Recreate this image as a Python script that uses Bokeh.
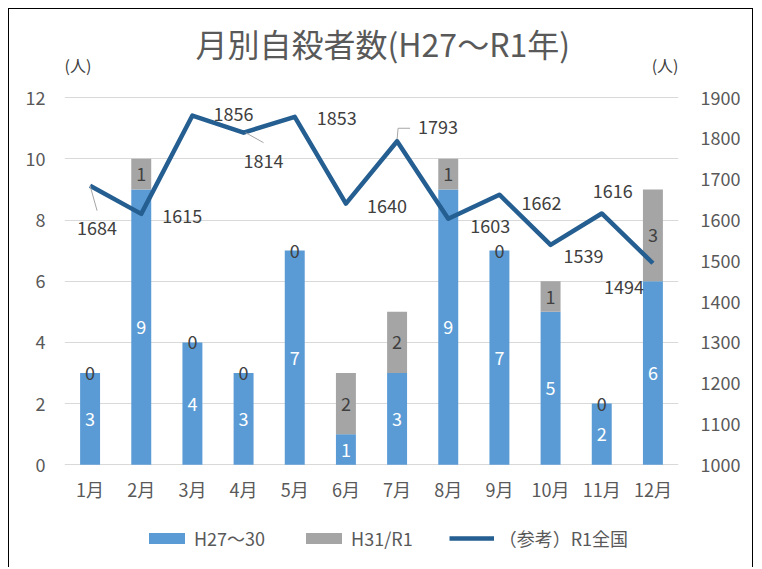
from bokeh.plotting import figure
from bokeh.models import (Range1d, LinearAxis, FixedTicker, ColumnDataSource,
                          Legend, LegendItem, Label, Title)
from bokeh.core.properties import value
from bokeh.embed import file_html
from bokeh.resources import INLINE

# ---------------- data ----------------
months = ["1月", "2月", "3月", "4月", "5月", "6月", "7月", "8月", "9月", "10月", "11月", "12月"]
h27_30 = [3, 9, 4, 3, 7, 1, 3, 9, 7, 5, 2, 6]
h31_r1 = [0, 1, 0, 0, 0, 2, 2, 1, 0, 1, 0, 3]
r1_national = [1684, 1615, 1856, 1814, 1853, 1640, 1793, 1603, 1662, 1539, 1616, 1494]
left_ticks = [0, 2, 4, 6, 8, 10, 12]
right_ticks = [1000, 1100, 1200, 1300, 1400, 1500, 1600, 1700, 1800, 1900]
series_names = ["H27〜30", "H31/R1", "（参考）R1全国"]
title_text = "月別自殺者数(H27〜R1年)"
unit_text = "(人)"

# ---------------- styles / layout ----------------
FONT = "Noto Sans CJK JP"
BLUE = "#5B9BD5"
GRAY = "#A5A5A5"
LINE = "#255E91"
TXT = "#595959"
DARK = "#404040"

# label offsets in pixels (x right, y down) for the line values
line_lbl_dx = [7, 41, 41, 20, 42, 41, 41, 42, 42, 33, 11, -29]
line_lbl_dy = [42, 2, -2, 28, 1, 2, -14, 7, 8, 11, -22, 24]
# leader lines (pixel offsets from the point)
leaders = {0: [(0, 0), (7, 25)], 3: [(2, 0), (20, 10)], 6: [(0, -2), (1, -13), (13, -13)]}

W, H = 745, 559
TOP, BOTTOM = 46, 0
PX = 30.6                                  # pixels per unit of the left scale
Y_ZERO = 455.3                             # canvas y of value 0
Y_TOP = (Y_ZERO - TOP) / PX                # head-room for unit labels
Y_BOT = -((H - BOTTOM) - Y_ZERO) / PX      # foot-room for month labels + legend
R_TOP = 1000 + 900 * Y_TOP / 12.0
R_BOT = 1000 + 900 * Y_BOT / 12.0
x = list(range(len(months)))

p = figure(width=W, height=H, output_backend="svg", toolbar_location=None,
           x_range=Range1d(-0.5, 11.5), y_range=Range1d(Y_BOT, Y_TOP),
           min_border_left=55, min_border_right=76, min_border_top=TOP,
           min_border_bottom=BOTTOM,
           background_fill_color="white", border_fill_color="white")
p.styles = {"margin-left": "8px", "margin-top": "8px",
            "border-left": "1px solid #000000", "border-top": "1px solid #000000",
            "border-right": "1px solid #000000"}
p.outline_line_color = None
p.extra_y_ranges = {"right": Range1d(R_BOT, R_TOP)}

# title
p.title = Title(text=title_text, align="left", offset=131, text_font=FONT,
                text_font_size="32px", text_color=TXT, text_font_style="normal",
                standoff=-21)

# axes
p.xaxis.ticker = FixedTicker(ticks=x)
p.xaxis.major_label_overrides = {i: m for i, m in enumerate(months)}
p.xaxis.fixed_location = 0
p.yaxis.ticker = FixedTicker(ticks=left_ticks)
for ax in [p.xaxis[0], p.yaxis[0]]:
    ax.axis_line_color = None
    ax.major_tick_line_color = None
    ax.minor_tick_line_color = None
    ax.major_tick_out = 0
    ax.major_label_text_font = FONT
    ax.major_label_text_font_size = "18px"
    ax.major_label_text_color = TXT
p.xaxis.major_label_standoff = 11
p.yaxis.major_label_standoff = 19

ry = LinearAxis(y_range_name="right", ticker=FixedTicker(ticks=right_ticks))
ry.axis_line_color = None
ry.major_tick_line_color = None
ry.minor_tick_line_color = None
ry.major_tick_out = 0
ry.major_label_text_font = FONT
ry.major_label_text_font_size = "18px"
ry.major_label_text_color = TXT
ry.major_label_standoff = 22
p.add_layout(ry, "right")

p.xgrid.grid_line_color = None
p.ygrid.ticker = FixedTicker(ticks=left_ticks)
p.ygrid.grid_line_color = "#D9D9D9"
p.ygrid.grid_line_width = 1

# bars
src = ColumnDataSource(dict(x=x, a=h27_30, b=h31_r1))
bars = p.vbar_stack(["a", "b"], x="x", width=0.39, color=[BLUE, GRAY], source=src,
                    line_color=None)

# line
ln = p.line(x, r1_national, y_range_name="right", line_width=4.5, line_color=LINE,
            line_join="round")

# bar labels
p.text(x=x, y=[a / 2 for a in h27_30], text=[str(a) for a in h27_30],
       text_font=value(FONT), text_font_size="18px", text_color="white",
       text_align="center", text_baseline="middle")
p.text(x=x, y=[a + b / 2 for a, b in zip(h27_30, h31_r1)], text=[str(b) for b in h31_r1],
       text_font=value(FONT), text_font_size="18px", text_color=DARK,
       text_align="center", text_baseline="middle")

# leader lines
xpx = 614.0 / 12.0
ypx = PX * 12.0 / 900.0
lx, ly = [], []
for i, pts in leaders.items():
    lx.append([i + dx / xpx for dx, dy in pts])
    ly.append([r1_national[i] - dy / ypx for dx, dy in pts])
p.multi_line(lx, ly, y_range_name="right", line_color="#A6A6A6", line_width=1)

# line value labels
lsrc = ColumnDataSource(dict(x=x, y=r1_national, t=[str(v) for v in r1_national],
                             dx=line_lbl_dx, dy=line_lbl_dy))
p.text(x="x", y="y", text="t", x_offset="dx", y_offset="dy", source=lsrc,
       y_range_name="right", text_font=value(FONT), text_font_size="18px",
       text_color=DARK, text_align="center", text_baseline="middle")

# unit labels
p.add_layout(Label(x=-0.5, y=12.0, y_offset=33, text=unit_text,
                   text_font=FONT, text_font_size="16px", text_color=DARK,
                   text_align="left", text_baseline="middle"))
p.add_layout(Label(x=11.5, y=12.0, y_offset=33, text=unit_text,
                   text_font=FONT, text_font_size="16px", text_color=DARK,
                   text_align="right", text_baseline="middle"))

# legend
legend = Legend(items=[LegendItem(label=series_names[0], renderers=[bars[0]]),
                       LegendItem(label=series_names[1], renderers=[bars[1]]),
                       LegendItem(label=series_names[2], renderers=[ln])],
                orientation="horizontal", location=(80, 17),
                glyph_width=45, glyph_height=14, label_standoff=5, spacing=36,
                padding=0, margin=0, border_line_color=None, background_fill_alpha=0,
                label_text_font=FONT, label_text_font_size="18px", label_text_color=TXT)
p.add_layout(legend)

open("out.html", "w").write(file_html(p, INLINE))
